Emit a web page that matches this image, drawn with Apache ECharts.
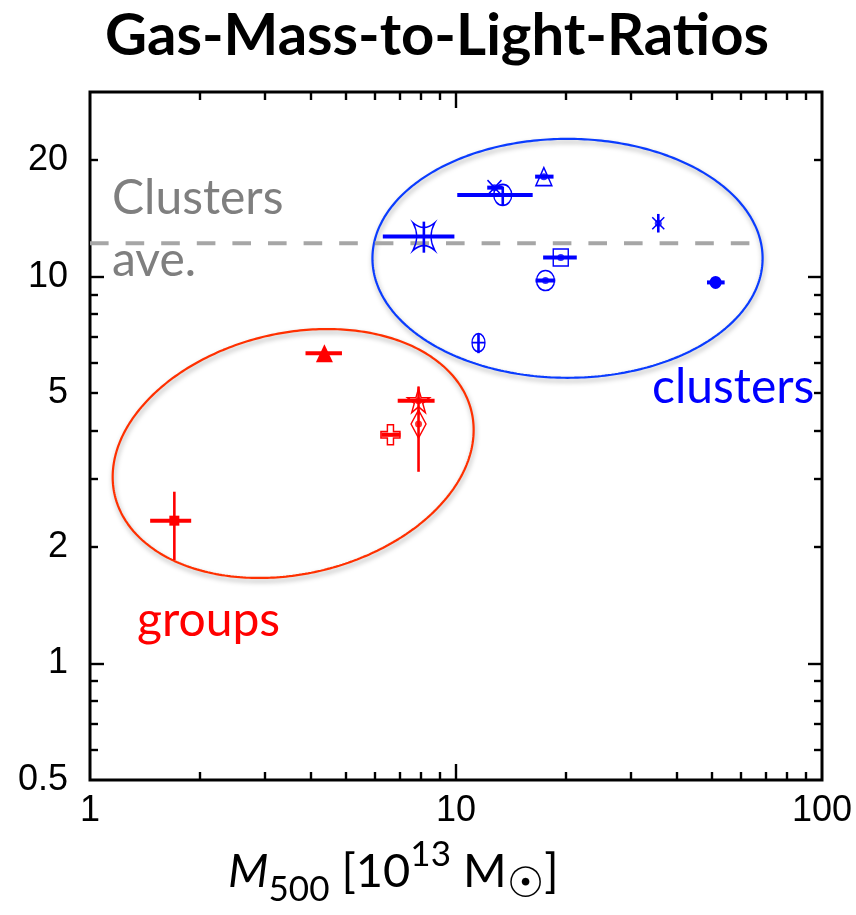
<!DOCTYPE html>
<html>
<head>
<meta charset="utf-8">
<title>Gas-Mass-to-Light-Ratios</title>
<script src="https://cdn.jsdelivr.net/npm/echarts@6/dist/echarts.min.js"></script>
<style>
  html, body { margin: 0; padding: 0; background: #ffffff; }
  #chart { width: 856px; height: 915px; }
</style>
</head>
<body>
<div id="chart"></div>
<script>
// Gas mass-to-light ratio against M500 for galaxy clusters and groups.

// ---- tick values ----
const xTickLabels = [1, 10, 100];
const xLongTicks = [10];
const xShortTicks = [2, 3, 4, 5, 6, 7, 8, 9, 20, 30, 40, 50, 60, 70, 80, 90];
const yTickLabels = [0.5, 1, 2, 5, 10, 20];
const yLongTicks = [1, 10];
const yShortTicks = [0.6, 0.7, 0.8, 0.9, 2, 3, 4, 5, 6, 7, 8, 9, 20];

// ---- clusters (M500 in 1e13 Msun, ratio) ----
const clusterMass    = [8.17, 12.74, 13.42, 17.38, 35.7, 19.33, 17.56, 51.2, 11.52];
const clusterMassLo  = [6.31, 12.17, 10.08, 16.45, null, 17.3, 16.49, 48.5, null];
const clusterMassHi  = [9.9, 13.42, 16.2, 18.47, null, 21.38, 18.67, 54.2, null];
const clusterRatio   = [12.69, 16.98, 16.26, 18.13, 13.74, 11.2, 9.77, 9.66, 6.75];
const clusterRatioLo = [11.53, null, 15.31, null, 13.0, null, null, null, 6.34];
const clusterRatioHi = [13.87, null, 17.09, null, 14.52, null, null, null, 7.1];

// ---- groups ----
const groupMass    = [4.37, 7.9, 7.9, 6.62, 1.7];
const groupMassLo  = [3.88, 6.93, null, 6.25, 1.46];
const groupMassHi  = [4.88, 8.74, null, 7.05, 1.89];
const groupRatio   = [6.34, 4.78, 4.16, 3.9, 2.34];
const groupRatioLo = [null, 4.4, 3.13, null, 1.85];
const groupRatioHi = [null, 5.2, 4.5, null, 2.78];

// average ratio of the cluster sample
const clustersAverage = 12.2;
const averageLineEnd = 66;

// ---- styling ----
const BLUE = '#0000ff';
const RED = '#ff0000';
const GREY_TEXT = '#7f7f7f';
const CLEAR = 'rgba(255,255,255,0)';

const ASTROID = 'path://M0 0Q5 3.5 10 0Q6.5 5 10 10Q5 6.5 0 10Q3.5 5 0 0Z';
const XMARK = 'path://M0 0L10 10M10 0L0 10';
const RINGPLUS = 'path://M0 5A5 5 0 1 1 10 5A5 5 0 1 1 0 5ZM0 5L10 5';
const STAR = 'path://M5 0L6.2 3.6L10 3.6L6.9 5.8L8.1 9.5L5 7.2L1.9 9.5L3.1 5.8L0 3.6L3.8 3.6Z';
const PLUS = 'path://M3.4 0H6.6V3.4H10V6.6H6.6V10H3.4V6.6H0V3.4H3.4Z';

const clusterGlyphs = [
  { symbol: ASTROID, size: [22, 28], fill: false },
  { symbol: XMARK, size: [14, 15], fill: false, dot: true },
  { symbol: 'circle', size: [18, 21], fill: false },
  { symbol: 'triangle', size: [16, 18], fill: false, dot: true },
  { symbol: XMARK, size: [12, 12], fill: false, dot: true },
  { symbol: 'rect', size: [15, 17], fill: false, dot: true },
  { symbol: 'circle', size: [18, 20], fill: false, dot: true },
  { symbol: 'circle', size: [12, 13], fill: true },
  { symbol: RINGPLUS, size: [13, 18], fill: false }
];
const groupGlyphs = [
  { symbol: 'triangle', size: [17, 18], fill: true },
  { symbol: STAR, size: [22, 24], fill: false, dot: true },
  { symbol: 'diamond', size: [15, 28], fill: false, dot: true },
  { symbol: PLUS, size: [19, 20], fill: false },
  { symbol: 'rect', size: [10, 10], fill: true }
];

// sample outlines, centre in data units, radii in decades
const DECADE_ASPECT = 366 / 387;
const outlines = [
  { centre: [20.17, 11.15], radii: [0.533, 0.3265], tilt: 0, color: '#0a3cff' },
  { centre: [3.59, 3.49], radii: [0.5006, 0.329], tilt: 13.2, color: '#ff3000' }
];

function outlinePoints(o) {
  const pts = [];
  const th = o.tilt * Math.PI / 180;
  const cx = Math.log10(o.centre[0]);
  const cy = Math.log10(o.centre[1]);
  const n = 360;
  for (let i = 0; i <= n; i++) {
    const t = (i / n) * 2 * Math.PI;
    const u = o.radii[0] * Math.cos(t);
    const v = o.radii[1] * Math.sin(t);
    const dx = u * Math.cos(th) - v * Math.sin(th);
    const dy = (u * Math.sin(th) + v * Math.cos(th)) * DECADE_ASPECT;
    pts.push([Math.pow(10, cx + dx), Math.pow(10, cy + dy)]);
  }
  return pts;
}

function errorBars(mass, massLo, massHi, ratio, ratioLo, ratioHi, color) {
  const data = mass.map((m, i) => [
    m, ratio[i],
    massLo[i] == null ? m : massLo[i],
    massHi[i] == null ? m : massHi[i],
    ratioLo[i] == null ? ratio[i] : ratioLo[i],
    ratioHi[i] == null ? ratio[i] : ratioHi[i]
  ]);
  return {
    type: 'custom',
    xAxisIndex: 0,
    yAxisIndex: 0,
    silent: true,
    z: 3,
    encode: { x: 0, y: 1 },
    data: data,
    renderItem: function (params, api) {
      const x = api.value(0), y = api.value(1);
      const children = [];
      const a = api.coord([api.value(2), y]);
      const b = api.coord([api.value(3), y]);
      if (Math.abs(b[0] - a[0]) > 0.5) {
        children.push({ type: 'line', shape: { x1: a[0], y1: a[1], x2: b[0], y2: b[1] },
          style: { stroke: color, lineWidth: 4 } });
      }
      const c = api.coord([x, api.value(4)]);
      const d = api.coord([x, api.value(5)]);
      if (Math.abs(d[1] - c[1]) > 0.5) {
        children.push({ type: 'line', shape: { x1: c[0], y1: c[1], x2: d[0], y2: d[1] },
          style: { stroke: color, lineWidth: 2.6 } });
      }
      return { type: 'group', children: children };
    }
  };
}

function markerSeries(mass, ratio, glyphs, color) {
  const out = [];
  const dots = [];
  mass.forEach((m, i) => {
    const g = glyphs[i];
    out.push({
      type: 'scatter', xAxisIndex: 0, yAxisIndex: 0, silent: true, z: 4,
      data: [[m, ratio[i]]],
      symbol: g.symbol, symbolSize: g.size,
      itemStyle: {
        color: g.fill ? color : CLEAR,
        borderColor: color,
        borderWidth: g.fill ? 0 : 1.5,
        opacity: 1
      }
    });
    if (g.dot) dots.push([m, ratio[i]]);
  });
  out.push({
    type: 'scatter', xAxisIndex: 0, yAxisIndex: 0, silent: true, z: 5,
    data: dots, symbol: 'circle', symbolSize: 7,
    itemStyle: { color: color }
  });
  return out;
}

const series = [];
outlines.forEach(o => {
  series.push({
    type: 'line', xAxisIndex: 0, yAxisIndex: 0, silent: true, z: 1,
    data: outlinePoints(o), showSymbol: false, symbol: 'none', smooth: false,
    lineStyle: {
      color: o.color, width: 2.2,
      shadowColor: 'rgba(0,0,0,0.35)', shadowBlur: 5, shadowOffsetX: 1, shadowOffsetY: 3
    }
  });
});
series.push({
  type: 'line', xAxisIndex: 0, yAxisIndex: 0, silent: true, z: 2,
  data: [[1, clustersAverage], [averageLineEnd, clustersAverage]],
  showSymbol: false, symbol: 'none',
  lineStyle: { color: '#a6a6a6', width: 4, type: [18.6, 17] }
});
series.push(errorBars(clusterMass, clusterMassLo, clusterMassHi, clusterRatio, clusterRatioLo, clusterRatioHi, BLUE));
series.push(errorBars(groupMass, groupMassLo, groupMassHi, groupRatio, groupRatioLo, groupRatioHi, RED));
markerSeries(clusterMass, clusterRatio, clusterGlyphs, BLUE).forEach(s => series.push(s));
markerSeries(groupMass, groupRatio, groupGlyphs, RED).forEach(s => series.push(s));

const TICK_FONT = { fontFamily: 'Liberation Sans', fontSize: 36, color: '#000' };

function xAxisDef(position, ticks, length, labels) {
  return {
    type: 'log', logBase: 10, min: 1, max: 100, gridIndex: 0, position: position,
    axisLine: { show: false, onZero: false },
    splitLine: { show: false },
    minorTick: { show: false },
    axisTick: { show: true, inside: true, length: length, customValues: ticks,
      lineStyle: { color: '#000', width: 2.4 } },
    axisLabel: labels ? Object.assign({ show: true, customValues: labels, margin: 13,
      formatter: v => String(v) }, TICK_FONT) : { show: false }
  };
}
function yAxisDef(position, ticks, length, labels) {
  return {
    type: 'log', logBase: 10, min: 0.5, max: 30, gridIndex: 0, position: position,
    axisLine: { show: false, onZero: false },
    splitLine: { show: false },
    minorTick: { show: false },
    axisTick: { show: true, inside: true, length: length, customValues: ticks,
      lineStyle: { color: '#000', width: 2.4 } },
    axisLabel: labels ? Object.assign({ show: true, customValues: labels, margin: 22,
      formatter: v => String(v) }, TICK_FONT) : { show: false }
  };
}

const LATO = 'Lato';
const option = {
  backgroundColor: '#ffffff',
  animation: false,
  grid: {
    left: 90, top: 92, width: 732, height: 688,
    show: true, borderColor: '#000', borderWidth: 3, backgroundColor: 'transparent'
  },
  xAxis: [
    xAxisDef('bottom', xLongTicks, 16, xTickLabels),
    xAxisDef('bottom', xShortTicks, 8, null),
    xAxisDef('top', xLongTicks, 16, null),
    xAxisDef('top', xShortTicks, 8, null)
  ],
  yAxis: [
    yAxisDef('left', yLongTicks, 14, yTickLabels),
    yAxisDef('left', yShortTicks, 8, null),
    yAxisDef('right', yLongTicks, 14, null),
    yAxisDef('right', yShortTicks, 8, null)
  ],
  series: series,
  graphic: [
    { type: 'text', x: 437, y: 36, silent: true,
      style: { text: 'Gas-Mass-to-Light-Ratios', fontFamily: LATO, fontWeight: 'bold', fontSize: 58,
        fill: '#000', textAlign: 'center', textVerticalAlign: 'middle' } },
    { type: 'text', x: 112, y: 199, silent: true,
      style: { text: 'Clusters', fontFamily: LATO, fontSize: 48, fill: GREY_TEXT,
        textAlign: 'left', textVerticalAlign: 'middle' } },
    { type: 'text', x: 112, y: 261, silent: true,
      style: { text: 'ave.', fontFamily: LATO, fontSize: 48, fill: GREY_TEXT,
        textAlign: 'left', textVerticalAlign: 'middle' } },
    { type: 'text', x: 652, y: 388, silent: true,
      style: { text: 'clusters', fontFamily: LATO, fontSize: 48, fill: BLUE,
        textAlign: 'left', textVerticalAlign: 'middle' } },
    { type: 'text', x: 137, y: 621, silent: true,
      style: { text: 'groups', fontFamily: LATO, fontSize: 48, fill: RED,
        textAlign: 'left', textVerticalAlign: 'middle' } },
    { type: 'text', x: 228, y: 837, silent: true,
      style: {
        text: '{it|M}{sub|500}{n| [10}{sup|13}{n| M}{sun|☉}{n|]}',
        textAlign: 'left', textVerticalAlign: 'top', fill: '#000',
        rich: {
          it: { fontFamily: LATO, fontStyle: 'italic', fontSize: 47, lineHeight: 70, verticalAlign: 'middle' },
          n: { fontFamily: LATO, fontSize: 47, lineHeight: 70, verticalAlign: 'middle' },
          sub: { fontFamily: LATO, fontSize: 35, lineHeight: 26, verticalAlign: 'bottom' },
          sup: { fontFamily: LATO, fontSize: 35, lineHeight: 43, verticalAlign: 'top' },
          sun: { fontFamily: 'DejaVu Sans', fontSize: 42, lineHeight: 32, verticalAlign: 'bottom' }
        }
      } }
  ]
};

const chart = echarts.init(document.getElementById('chart'), null, { renderer: 'canvas' });
chart.setOption(option);
</script>
</body>
</html>
